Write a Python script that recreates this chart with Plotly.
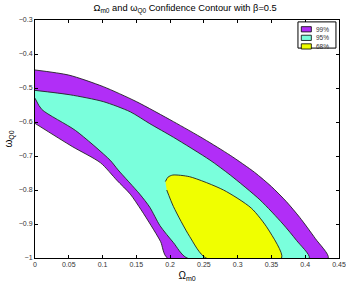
import plotly.graph_objects as go

# 99% region: outer (upper-right) edge and inner (lower-left) edge
p99_outer_x = [0.0, 0.050, 0.101, 0.150, 0.205, 0.250, 0.289, 0.325, 0.350, 0.372, 0.392, 0.415, 0.434]
p99_outer_y = [-0.447, -0.462, -0.496, -0.540, -0.599, -0.650, -0.698, -0.748, -0.790, -0.834, -0.881, -0.943, -1.0]
p99_inner_x = [0.196, 0.186, 0.172, 0.157, 0.141, 0.121, 0.097, 0.055, 0.0]
p99_inner_y = [-1.0, -0.952, -0.905, -0.858, -0.812, -0.771, -0.720, -0.672, -0.604]

# 95% region
p95_outer_x = [0.0, 0.052, 0.101, 0.141, 0.170, 0.205, 0.259, 0.289, 0.333, 0.367, 0.387, 0.406]
p95_outer_y = [-0.507, -0.520, -0.540, -0.570, -0.605, -0.645, -0.712, -0.756, -0.829, -0.900, -0.948, -1.0]
p95_inner_x = [0.225, 0.205, 0.185, 0.170, 0.155, 0.123, 0.111, 0.060, 0.010, 0.0]
p95_inner_y = [-1.0, -0.955, -0.905, -0.851, -0.812, -0.741, -0.712, -0.625, -0.563, -0.530]

# 68% region
p68_x = [0.193, 0.197, 0.204, 0.229, 0.279, 0.320, 0.345, 0.365, 0.253, 0.229, 0.205, 0.195]
p68_y = [-0.775, -0.762, -0.756, -0.761, -0.800, -0.853, -0.915, -1.0, -1.0, -0.937, -0.849, -0.800]

x_ticks = [0, 0.05, 0.1, 0.15, 0.2, 0.25, 0.3, 0.35, 0.4, 0.45]
x_labels = ["0", "0.05", "0.1", "0.15", "0.2", "0.25", "0.3", "0.35", "0.4", "0.45"]
y_ticks = [-1, -0.9, -0.8, -0.7, -0.6, -0.5, -0.4, -0.3]
y_labels = ["\u22121", "\u22120.9", "\u22120.8", "\u22120.7", "\u22120.6", "\u22120.5", "\u22120.4", "\u22120.3"]

names = ["99%", "95%", "68%"]
colors = ["#B12EF7", "#7AFFDC", "#F0FF00"]

edge = dict(color="#222", width=0.9, shape="spline", smoothing=0.7)

fig = go.Figure()
fig.add_trace(go.Scatter(
    x=p99_outer_x + p99_inner_x, y=p99_outer_y + p99_inner_y,
    fill="toself", fillcolor=colors[0], mode="lines", line=edge, name=names[0]))
fig.add_trace(go.Scatter(
    x=p95_outer_x + p95_inner_x, y=p95_outer_y + p95_inner_y,
    fill="toself", fillcolor=colors[1], mode="lines", line=edge, name=names[1]))
fig.add_trace(go.Scatter(
    x=p68_x, y=p68_y,
    fill="toself", fillcolor=colors[2], mode="lines", line=edge, name=names[2]))

axis_common = dict(
    showline=True, linecolor="black", linewidth=1, mirror="ticks",
    ticks="inside", ticklen=3, tickcolor="black", showgrid=False, zeroline=False,
    tickfont=dict(size=7, color="#333"), automargin=False,
)
fig.update_xaxes(range=[0, 0.45], tickvals=x_ticks, ticktext=x_labels,
                 title=dict(text="\u03a9<sub>m0</sub>", font=dict(size=10), standoff=4),
                 **axis_common)
fig.update_yaxes(range=[-1, -0.3], tickvals=y_ticks, ticktext=y_labels,
                 title=dict(text="\u03c9<sub>Q0</sub>", font=dict(size=10), standoff=4),
                 **axis_common)

# hand-drawn legend box in the top-right corner, MATLAB style
shapes = [dict(type="rect", xref="paper", yref="paper", x0=0.865, x1=0.99, y0=0.882, y1=0.992,
               line=dict(color="black", width=1), fillcolor="white", layer="above")]
annotations = []
for i, (nm, col) in enumerate(zip(names, colors)):
    yc = 0.961 - i * 0.036
    shapes.append(dict(type="rect", xref="paper", yref="paper", x0=0.876, x1=0.909,
                       y0=yc - 0.011, y1=yc + 0.011, fillcolor=col,
                       line=dict(color="black", width=0.8), layer="above"))
    annotations.append(dict(text=nm, xref="paper", yref="paper", x=0.918, y=yc,
                            xanchor="left", yanchor="middle", showarrow=False,
                            font=dict(size=6.5, color="#333")))

fig.update_layout(
    width=346, height=288,
    margin=dict(l=35, r=7, t=20, b=30),
    paper_bgcolor="white", plot_bgcolor="white",
    font=dict(family="Liberation Sans, Arial, sans-serif", color="black"),
    title=dict(text="\u03a9<sub>m0</sub> and \u03c9<sub>Q0</sub> Confidence Contour with \u03b2=0.5",
               x=0.535, xanchor="center", y=0.985, yanchor="top", font=dict(size=9.3)),
    showlegend=False,
    shapes=shapes,
    annotations=annotations,
)

fig.write_html("out.html", config={"displayModeBar": False},
               post_script="document.body.style.margin='0px';")
